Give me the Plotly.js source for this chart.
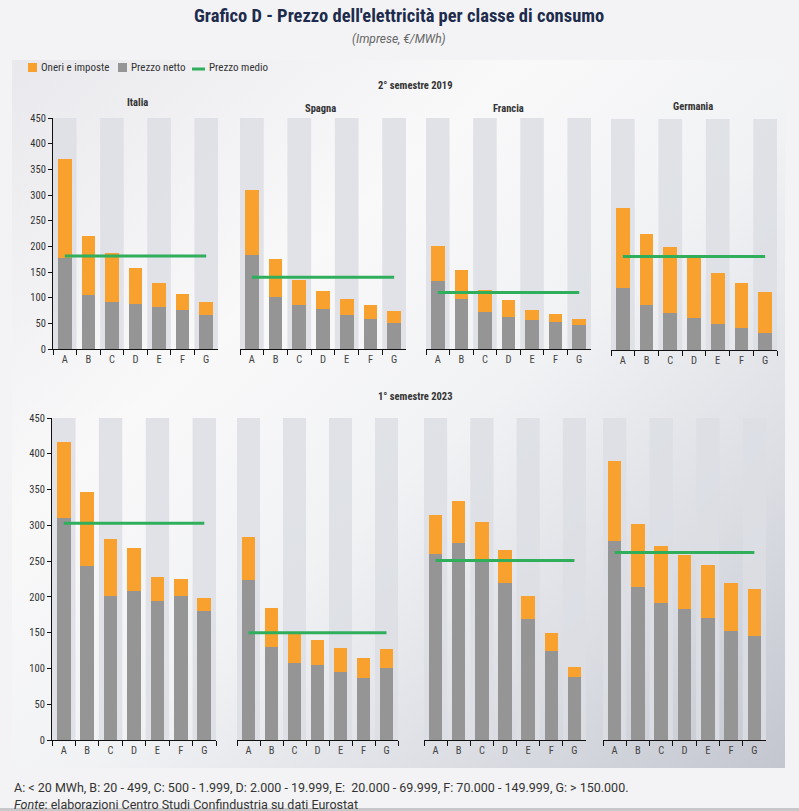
<!DOCTYPE html>
<html>
<head>
<meta charset="utf-8">
<script src="https://cdn.plot.ly/plotly-3.0.1.min.js"></script>
<style>
  html, body { margin:0; padding:0; background:#f3f3f5; width:799px; height:811px; overflow:hidden; }
  #panel { position:absolute; left:12px; top:60px; width:773px; height:708px;
    background: linear-gradient(to bottom right, #e9e9ed 0%, #f9f9fa 33%, #f1f2f4 55%, #dcdee4 78%, #c3c6cf 100%); }
  #strip { position:absolute; left:0; top:808px; width:799px; height:3px; background:#c8c8ca; }
  #chart { position:absolute; left:0; top:0; width:799px; height:811px; }
</style>
</head>
<body>
<div id="panel"></div>
<div id="strip"></div>
<div id="chart"></div>
<script>
// ---- data ----
var categories = ['A','B','C','D','E','F','G'];

// 2° semestre 2019
var italiaNet2019    = [178,106,92,88,81,76,66];
var italiaOneri2019  = [193,114,95,69,48,31,25];
var italiaMedio2019  = 181;
var spagnaNet2019    = [183,101,86,78,66,58,50];
var spagnaOneri2019  = [127,74,49,35,31,27,24];
var spagnaMedio2019  = 140;
var franciaNet2019   = [132,97,73,62,56,52,47];
var franciaOneri2019 = [69,56,42,33,20,16,11];
var franciaMedio2019 = 110;
var germaniaNet2019   = [121,88,72,62,51,43,34];
var germaniaOneri2019 = [155,138,129,120,99,87,79];
var germaniaMedio2019 = 182;

// 1° semestre 2023
var italiaNet2023    = [310,243,201,208,194,201,180];
var italiaOneri2023  = [106,103,80,61,34,24,18];
var italiaMedio2023  = 303;
var spagnaNet2023    = [223,130,108,105,95,86,100];
var spagnaOneri2023  = [61,54,42,35,33,28,27];
var spagnaMedio2023  = 150;
var franciaNet2023   = [260,276,253,220,169,125,88];
var franciaOneri2023 = [54,58,52,45,32,24,14];
var franciaMedio2023 = 251;
var germaniaNet2023   = [278,214,191,183,171,152,146];
var germaniaOneri2023 = [112,88,80,76,74,67,65];
var germaniaMedio2023 = 262;

var countries = ['Italia','Spagna','Francia','Germania'];
var seriesNames = {oneri:'Oneri e imposte', net:'Prezzo netto', medio:'Prezzo medio'};

var panels = [
  {net:italiaNet2019, oneri:italiaOneri2019, medio:italiaMedio2019},
  {net:spagnaNet2019, oneri:spagnaOneri2019, medio:spagnaMedio2019},
  {net:franciaNet2019, oneri:franciaOneri2019, medio:franciaMedio2019},
  {net:germaniaNet2019, oneri:germaniaOneri2019, medio:germaniaMedio2019},
  {net:italiaNet2023, oneri:italiaOneri2023, medio:italiaMedio2023},
  {net:spagnaNet2023, oneri:spagnaOneri2023, medio:spagnaMedio2023},
  {net:franciaNet2023, oneri:franciaOneri2023, medio:franciaMedio2023},
  {net:germaniaNet2023, oneri:germaniaOneri2023, medio:germaniaMedio2023}
];

// ---- layout geometry (pixels) ----
var W = 799, H = 811;
var xPix = [[53,218],[240,406],[426,591],[611,777],[52,216],[237,398],[424,586],[603,766]];
var yPix = [[349,118],[349,118],[349,118],[350,119],[740,418],[740,418],[740,418],[740,418]];

var COND = "'Roboto Condensed','Liberation Sans Narrow','DejaVu Sans Condensed',Roboto,sans-serif";
var ORANGE = '#f9a12e', GREY = '#959595', GREEN = '#2fae5c';

var traces = [];
var layout = {
  width: W, height: H,
  margin: {l:0, r:0, t:0, b:0},
  paper_bgcolor: 'rgba(0,0,0,0)',
  plot_bgcolor: 'rgba(0,0,0,0)',
  barmode: 'stack',
  bargap: 0.42,
  font: {family: COND, size: 10, color: '#333'},
  showlegend: false,
  shapes: [],
  annotations: []
};

panels.forEach(function(p, i){
  var n = i + 1;
  var xa = 'x' + (n === 1 ? '' : n), ya = 'y' + (n === 1 ? '' : n);
  traces.push({type:'bar', x:categories, y:p.net, name:seriesNames.net, marker:{color:GREY},
    xaxis:xa, yaxis:ya, hoverinfo:'y'});
  traces.push({type:'bar', x:categories, y:p.oneri, name:seriesNames.oneri, marker:{color:ORANGE},
    xaxis:xa, yaxis:ya, hoverinfo:'y'});
  traces.push({type:'scatter', mode:'lines', x:[categories[0], categories[categories.length-1]],
    y:[p.medio, p.medio], name:seriesNames.medio, line:{color:GREEN, width:3},
    xaxis:xa, yaxis:ya, hoverinfo:'y'});

  var leftPanel = (i === 0 || i === 4);
  layout['xaxis' + (n === 1 ? '' : n)] = {
    domain:[xPix[i][0]/W, xPix[i][1]/W], anchor: ya,
    type:'category', showline:true, linecolor:'#111', linewidth:1,
    ticks:'outside', ticklen:5, tickcolor:'#111', tickson:'boundaries',
    tickfont:{family:COND, size:10.5, color:'#444'}, showgrid:false, zeroline:false,
    range:[-0.5, 6.5], fixedrange:true
  };
  layout['yaxis' + (n === 1 ? '' : n)] = {
    domain:[1 - yPix[i][0]/H, 1 - yPix[i][1]/H], anchor: xa,
    range:[0,450], dtick:50, showgrid:false, zeroline:false,
    showline:leftPanel, linecolor:'#111', linewidth:1,
    ticks: leftPanel ? 'outside' : '', ticklen:4, tickcolor:'#111',
    showticklabels: leftPanel, tickfont:{family:COND, size:10.5, color:'#333'}, fixedrange:true
  };
  // alternating category bands
  for (var k = 0; k < categories.length; k += 2) {
    layout.shapes.push({type:'rect', layer:'below', xref:xa, yref:ya,
      x0:k-0.5, x1:k+0.5, y0:0, y1:450, line:{width:0}, fillcolor:'rgba(220,222,228,0.85)'});
  }
});

function ann(text, xpx, ypx, opts) {
  var a = {text:text, xref:'paper', yref:'paper', x:xpx/W, y:1-ypx/H, showarrow:false,
    xanchor:'center', yanchor:'middle', font:{family:COND, size:10, color:'#333'}};
  for (var k in opts) a[k] = opts[k];
  layout.annotations.push(a);
}
function pshape(s) { s.xref = 'paper'; s.yref = 'paper'; layout.shapes.push(s); }

// custom legend
pshape({type:'rect', x0:28/W, x1:37/W, y0:1-72/H, y1:1-63/H, line:{width:0}, fillcolor:ORANGE});
ann(seriesNames.oneri, 39, 67.5, {xanchor:'left', font:{family:COND, size:11, color:'#333'}});
pshape({type:'rect', x0:118/W, x1:127/W, y0:1-72/H, y1:1-63/H, line:{width:0}, fillcolor:GREY});
ann(seriesNames.net, 129, 67.5, {xanchor:'left', font:{family:COND, size:11, color:'#333'}});
pshape({type:'line', x0:192/W, x1:205/W, y0:1-69/H, y1:1-69/H, line:{width:3, color:GREEN}});
ann(seriesNames.medio, 207, 67.5, {xanchor:'left', font:{family:COND, size:11, color:'#333'}});

ann("Grafico D - Prezzo dell'elettricità per classe di consumo", 399, 16,
    {font:{family:COND, size:18.5, color:'#1d2b4c', weight:'bold'}});
ann("<i>(Imprese, €/MWh)</i>", 399, 39, {font:{family:"Roboto,sans-serif", size:12, color:'#666'}});
ann("<b>2° semestre 2019</b>", 415, 86, {font:{family:COND, size:10.5, color:'#333'}});
ann("<b>1° semestre 2023</b>", 415, 397, {font:{family:COND, size:10.5, color:'#333'}});
var titlePos = [[137,102],[320,108],[508,108],[693,107]];
countries.forEach(function(c, i){
  ann("<b>" + c + "</b>", titlePos[i][0], titlePos[i][1], {font:{family:COND, size:10.5, color:'#333'}});
});
ann("A: < 20 MWh, B: 20 - 499, C: 500 - 1.999, D: 2.000 - 19.999, E:  20.000 - 69.999, F: 70.000 - 149.999, G: > 150.000.",
    12, 787, {xanchor:'left', font:{family:"Roboto,sans-serif", size:12.5, color:'#333'}});
ann("<i>Fonte</i>: elaborazioni Centro Studi Confindustria su dati Eurostat",
    12, 804, {xanchor:'left', font:{family:"Roboto,sans-serif", size:12.5, color:'#333'}});

Plotly.newPlot('chart', traces, layout, {staticPlot:true, displayModeBar:false});
</script>
</body>
</html>
